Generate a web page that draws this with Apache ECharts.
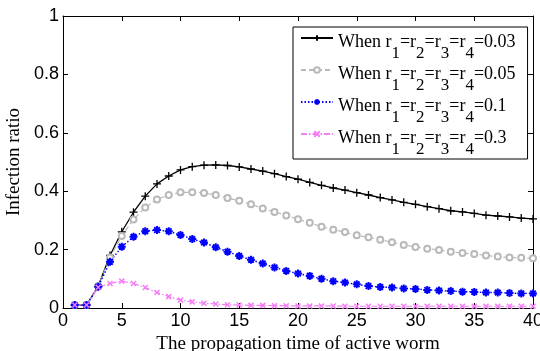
<!DOCTYPE html>
<html>
<head>
<meta charset="utf-8">
<script src="https://cdn.jsdelivr.net/npm/echarts@6/dist/echarts.min.js"></script>
<style>
  html, body { margin: 0; padding: 0; background: #fff; }
  #chart { width: 540px; height: 351px; }
</style>
</head>
<body>
<div id="chart"></div>
<script>
// propagation time 1..40
const times = [1,2,3,4,5,6,7,8,9,10,11,12,13,14,15,16,17,18,19,20,
  21,22,23,24,25,26,27,28,29,30,31,32,33,34,35,36,37,38,39,40];

const rValues = ['0.03', '0.05', '0.1', '0.3'];

const r003 = [0.010,0.010,0.075,0.180,0.261,0.328,0.383,0.425,0.452,0.473,
  0.484,0.489,0.490,0.488,0.483,0.476,0.469,0.460,0.450,0.441,
  0.430,0.420,0.411,0.404,0.395,0.387,0.378,0.370,0.362,0.355,
  0.347,0.340,0.333,0.329,0.324,0.318,0.315,0.312,0.308,0.305];

const r005 = [0.010,0.010,0.075,0.173,0.247,0.303,0.344,0.372,0.387,0.396,
  0.396,0.394,0.387,0.377,0.367,0.355,0.341,0.329,0.317,0.304,
  0.292,0.278,0.268,0.260,0.249,0.242,0.234,0.225,0.216,0.209,
  0.203,0.199,0.193,0.188,0.185,0.180,0.176,0.173,0.172,0.170];

const r01 = [0.010,0.010,0.073,0.158,0.210,0.244,0.263,0.267,0.263,0.250,
  0.236,0.224,0.208,0.193,0.178,0.165,0.152,0.139,0.127,0.118,
  0.110,0.100,0.092,0.087,0.081,0.075,0.072,0.070,0.067,0.065,
  0.062,0.060,0.058,0.056,0.055,0.053,0.053,0.051,0.050,0.050];

const r03 = [0.010,0.010,0.071,0.084,0.092,0.084,0.070,0.053,0.039,0.027,
  0.021,0.016,0.014,0.011,0.010,0.009,0.009,0.008,0.008,0.007,
  0.007,0.007,0.007,0.006,0.006,0.006,0.006,0.006,0.006,0.006,
  0.006,0.006,0.006,0.006,0.006,0.006,0.006,0.006,0.006,0.006];

const xTicks = [0,5,10,15,20,25,30,35,40];
const yTickLabels = ['0','0.2','0.4','0.6','0.8','1'];

const serif = '"Liberation Serif", "Times New Roman", serif';
const sans = '"Liberation Sans", Arial, sans-serif';

const plusPath = 'path://M0,-1L0,1M-1,0L1,0';
const starPath = 'path://M0,-1L0,1M-1,0L1,0M-0.7,-0.7L0.7,0.7M-0.7,0.7L0.7,-0.7';
const crossPath = 'path://M-1,-1L1,1M-1,1L1,-1';

const pairs = (arr) => times.map((t, i) => [t, arr[i]]);

const chart = echarts.init(document.getElementById('chart'));

const boxAxis = {
  axisLine: { show: true, onZero: false, lineStyle: { color: '#000', width: 1 } },
  axisTick: { show: true, inside: true, length: 5, lineStyle: { color: '#000' } },
  splitLine: { show: false },
};

chart.setOption({
  animation: false,
  backgroundColor: '#fff',
  grid: { left: 63, right: 7, top: 16, bottom: 43, outerBoundsMode: 'none', containLabel: false },
  xAxis: [
    {
      type: 'value', min: 0, max: 40, interval: 5,
      ...boxAxis,
      axisLabel: {
        color: '#000', fontFamily: sans, fontSize: 18, margin: 4,
        formatter: (v) => xTicks.includes(v) ? String(v) : ''
      },
      name: 'The propagation time of active worm',
      nameLocation: 'middle',
      nameGap: 22,
      nameTextStyle: { color: '#000', fontFamily: serif, fontSize: 19 }
    },
    {
      type: 'value', min: 0, max: 40, interval: 5, position: 'top',
      ...boxAxis,
      axisLabel: { show: false }
    }
  ],
  yAxis: [
    {
      type: 'value', min: 0, max: 1, interval: 0.2,
      ...boxAxis,
      axisLabel: {
        color: '#000', fontFamily: sans, fontSize: 18, margin: 4,
        formatter: (v) => yTickLabels[Math.round(v / 0.2)]
      },
      name: 'Infection ratio',
      nameLocation: 'middle',
      nameGap: 33,
      nameTextStyle: { color: '#000', fontFamily: serif, fontSize: 19 }
    },
    {
      type: 'value', min: 0, max: 1, interval: 0.2, position: 'right',
      ...boxAxis,
      axisLabel: { show: false }
    }
  ],
  legend: {
    orient: 'vertical',
    left: 293,
    top: 27,
    itemWidth: 32,
    itemHeight: 7,
    itemGap: -1,
    padding: [2, 12, 1, 7],
    backgroundColor: '#fff',
    borderColor: '#000',
    borderWidth: 1,
    borderRadius: 0,
    data: rValues,
    formatter: (name) =>
      '{m|When r}{s|1}{m|=r}{s|2}{m|=r}{s|3}{m|=r}{s|4}{m|=' + name + '}',
    textStyle: {
      color: '#000',
      fontFamily: serif,
      rich: {
        m: { fontFamily: serif, fontSize: 18, lineHeight: 18, color: '#000',
             verticalAlign: 'top', padding: [4, 0, 0, 0] },
        s: { fontFamily: serif, fontSize: 17, lineHeight: 17, color: '#000',
             verticalAlign: 'top', padding: [16, 0, 0, 0] }
      }
    }
  },
  series: [
    {
      name: rValues[0], type: 'line', data: pairs(r003),
      symbol: plusPath, symbolSize: 8, showSymbol: true,
      lineStyle: { color: '#000', width: 1.3, type: 'solid' },
      itemStyle: { color: '#000', borderColor: '#000', borderWidth: 1.3 }
    },
    {
      name: rValues[1], type: 'line', data: pairs(r005),
      symbol: 'emptyCircle', symbolSize: 6, showSymbol: true,
      lineStyle: { color: '#b9b9b9', width: 1.2, type: [5, 3] },
      itemStyle: { color: '#b9b9b9', borderColor: '#b9b9b9', borderWidth: 1.5 }
    },
    {
      name: rValues[2], type: 'line', data: pairs(r01),
      symbol: starPath, symbolSize: 8, showSymbol: true,
      lineStyle: { color: '#0000ff', width: 1.4, type: [1.5, 2] },
      itemStyle: { color: '#0000ff', borderColor: '#0000ff', borderWidth: 2 }
    },
    {
      name: rValues[3], type: 'line', data: pairs(r03),
      symbol: crossPath, symbolSize: 5, showSymbol: true,
      lineStyle: { color: '#f57ef5', width: 1.2, type: [6, 2, 1.5, 2] },
      itemStyle: { color: '#f57ef5', borderColor: '#f57ef5', borderWidth: 1.5 }
    }
  ]
});
</script>
</body>
</html>
